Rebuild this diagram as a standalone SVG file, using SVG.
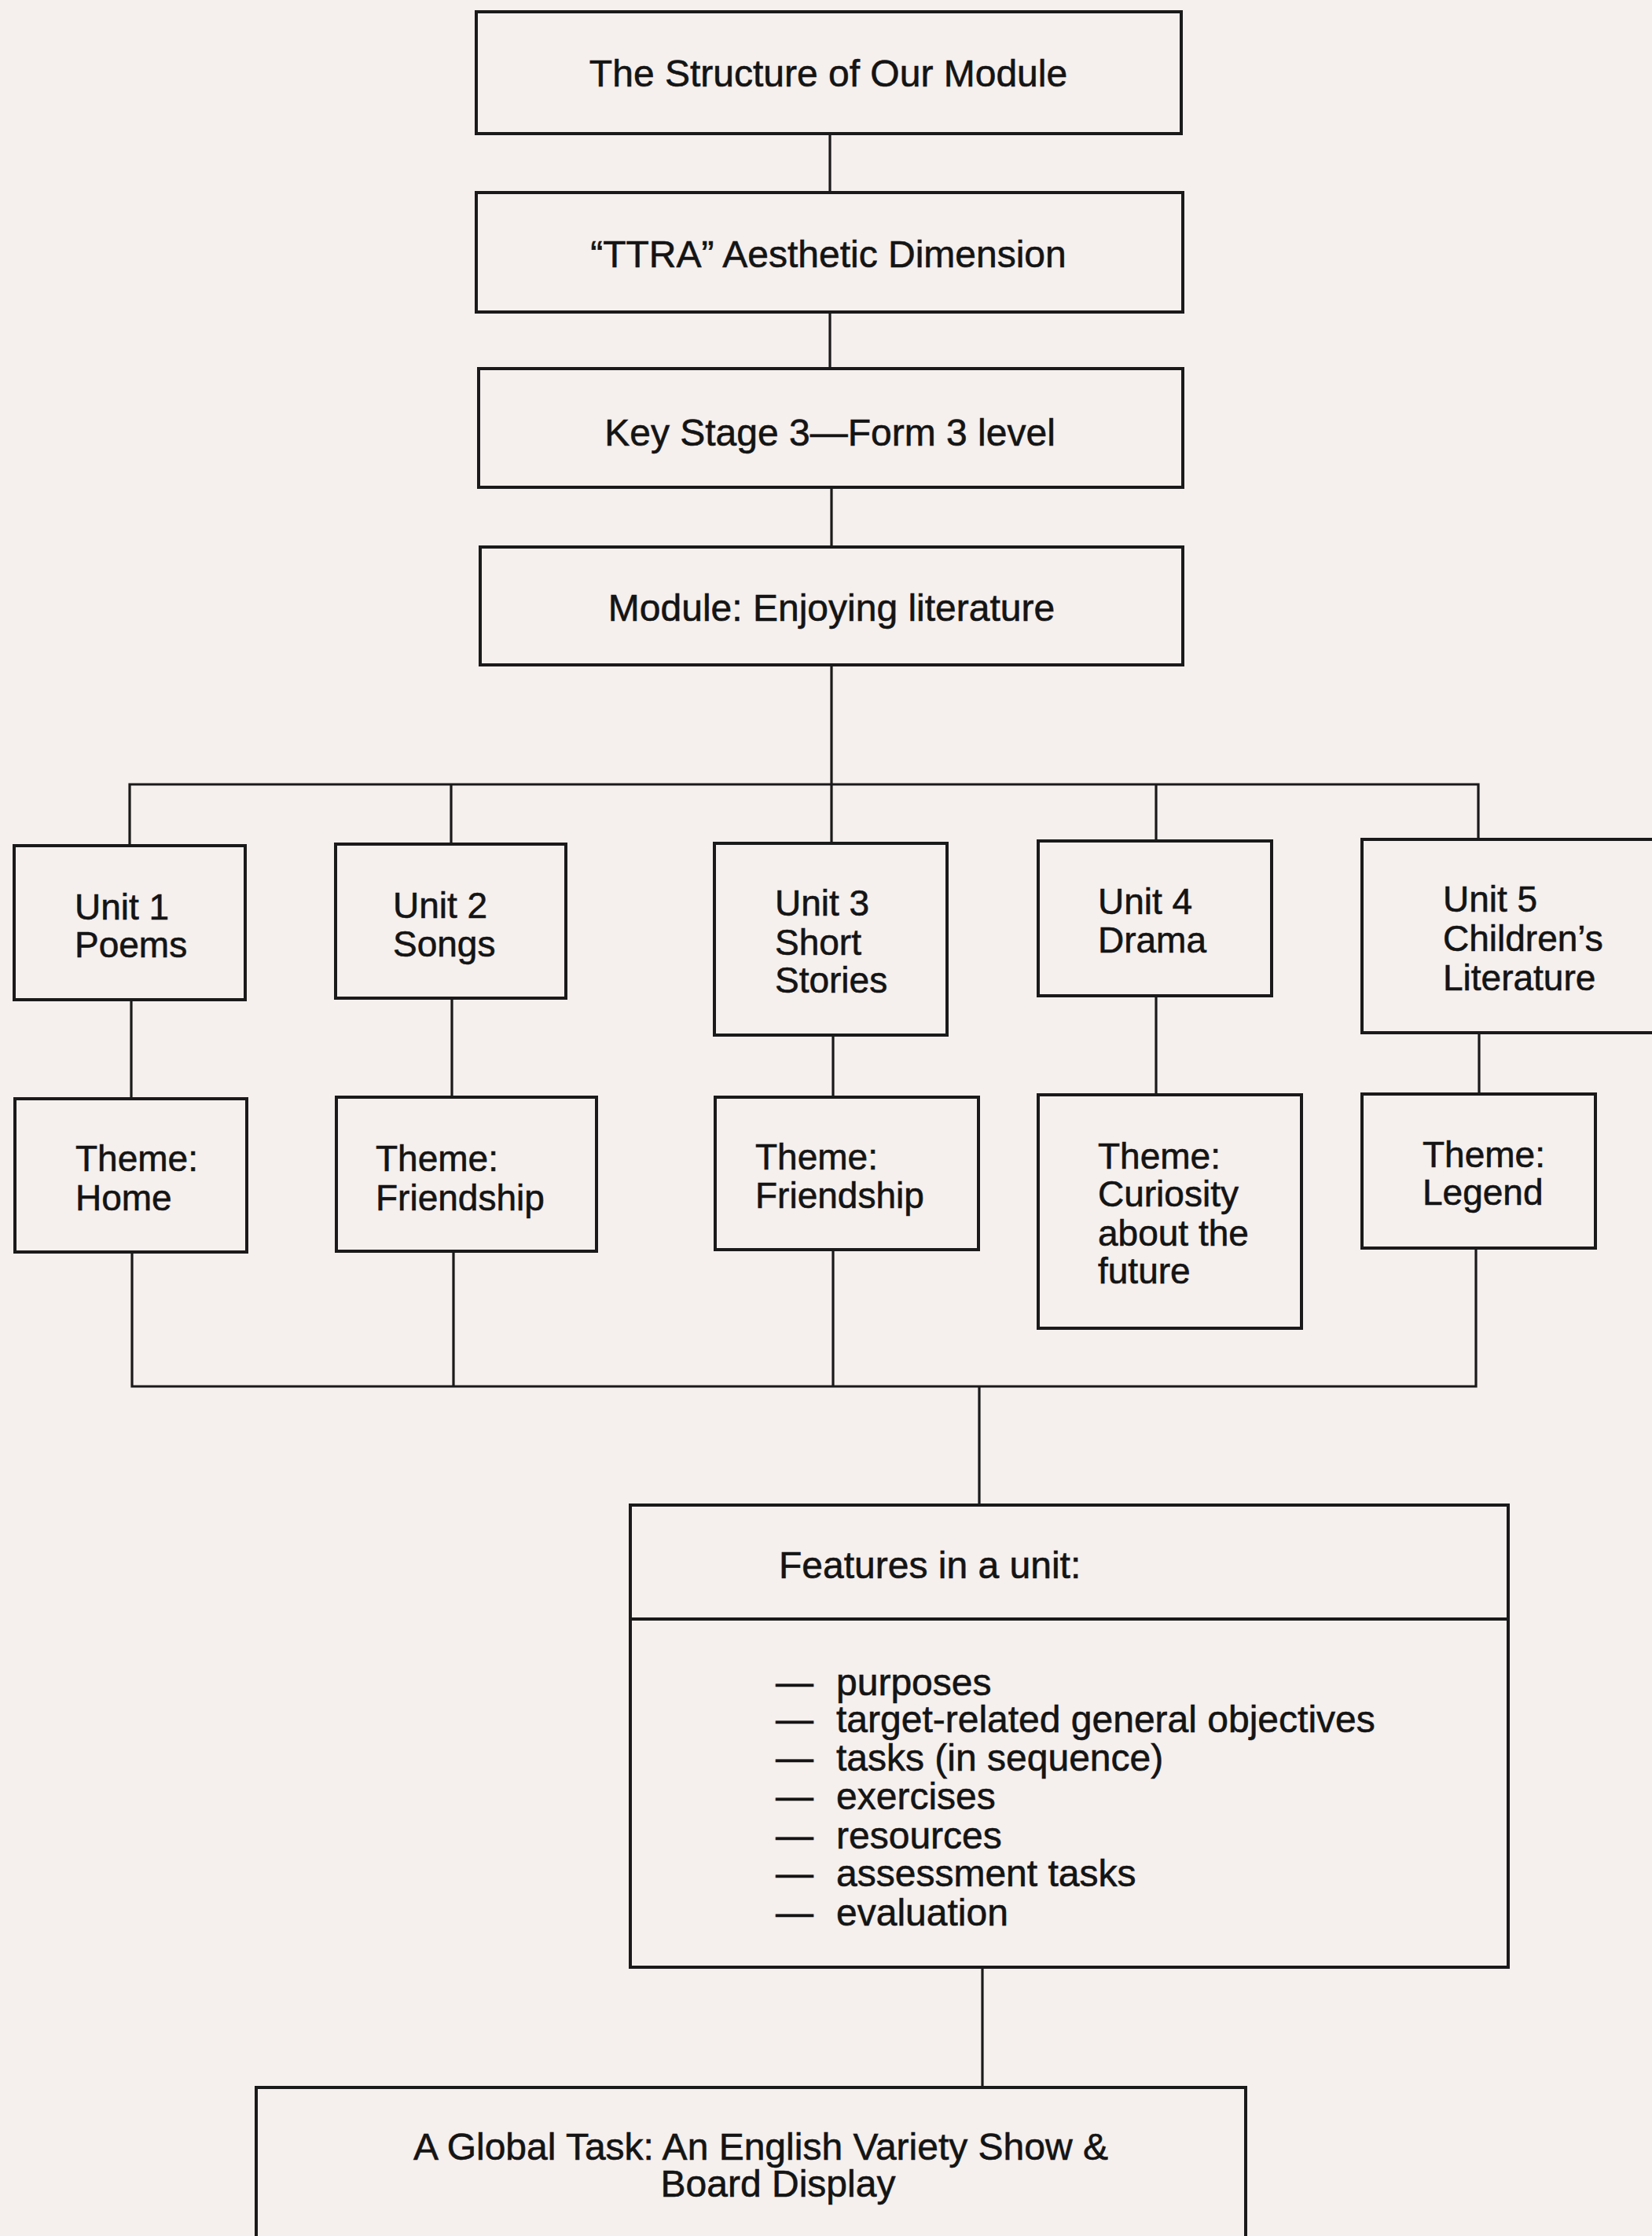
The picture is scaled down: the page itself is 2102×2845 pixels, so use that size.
<svg xmlns="http://www.w3.org/2000/svg" width="2102" height="2845" viewBox="0 0 2102 2845">
<style>
.bg{fill:#f5efed}
.box{fill:none;stroke:#1a1a1a;stroke-width:4}
.ln{fill:none;stroke:#1a1a1a;stroke-width:3.2;stroke-linecap:square}
text{font-family:"Liberation Sans",Arial,Helvetica,sans-serif;fill:#141414;stroke:#141414;stroke-width:0.6}
.t{font-size:48px;text-anchor:middle}
.u{font-size:46px}
.f{font-size:48px}
</style>
<rect class="bg" x="0" y="0" width="2102" height="2845"/>
<g id="connectors">
<path class="ln" d="M1056 170V245M1056 397V469M1058 620V696M1058 846V1073"/>
<path class="ln" d="M165 998H1881M165 998V1076M574 998V1074M1471 998V1070M1881 998V1068"/>
<path class="ln" d="M167 1272V1398M575 1270V1396M1060 1317V1396M1471 1267V1393M1882 1314V1392"/>
<path class="ln" d="M168 1593V1764M577 1592V1764M1060 1590V1764M1878 1588V1764M168 1764H1878M1246 1764V1915"/>
<path class="ln" d="M1250 2503V2656"/>
</g>
<g id="n-structure"><rect class="box" x="606" y="15" width="897" height="155"/><text class="t" x="1054" y="110">The Structure of Our Module</text></g>
<g id="n-ttra"><rect class="box" x="606" y="245" width="899" height="152"/><text class="t" x="1054" y="340">“TTRA” Aesthetic Dimension</text></g>
<g id="n-keystage"><rect class="box" x="609" y="469" width="896" height="151"/><text class="t" x="1056" y="567">Key Stage 3—Form 3 level</text></g>
<g id="n-module"><rect class="box" x="611" y="696" width="894" height="150"/><text class="t" x="1058" y="790">Module: Enjoying literature</text></g>
<g id="n-unit1"><rect class="box" x="18" y="1076" width="294" height="196"/><text class="u" x="95" y="1170">Unit 1</text><text class="u" x="95" y="1218">Poems</text></g>
<g id="n-unit2"><rect class="box" x="427" y="1074" width="293" height="196"/><text class="u" x="500" y="1168">Unit 2</text><text class="u" x="500" y="1217">Songs</text></g>
<g id="n-unit3"><rect class="box" x="909" y="1073" width="296" height="244"/><text class="u" x="986" y="1165">Unit 3</text><text class="u" x="986" y="1215">Short</text><text class="u" x="986" y="1263">Stories</text></g>
<g id="n-unit4"><rect class="box" x="1321" y="1070" width="297" height="197"/><text class="u" x="1397" y="1163">Unit 4</text><text class="u" x="1397" y="1212">Drama</text></g>
<g id="n-unit5"><rect class="box" x="1733" y="1068" width="380" height="246"/><text class="u" x="1836" y="1160">Unit 5</text><text class="u" x="1836" y="1210">Children’s</text><text class="u" x="1836" y="1260">Literature</text></g>
<g id="n-theme1"><rect class="box" x="19" y="1398" width="295" height="195"/><text class="u" x="96" y="1490">Theme:</text><text class="u" x="96" y="1540">Home</text></g>
<g id="n-theme2"><rect class="box" x="428" y="1396" width="331" height="196"/><text class="u" x="478" y="1490">Theme:</text><text class="u" x="478" y="1540">Friendship</text></g>
<g id="n-theme3"><rect class="box" x="910" y="1396" width="335" height="194"/><text class="u" x="961" y="1488">Theme:</text><text class="u" x="961" y="1537">Friendship</text></g>
<g id="n-theme4"><rect class="box" x="1321" y="1393" width="335" height="297"/><text class="u" x="1397" y="1487">Theme:</text><text class="u" x="1397" y="1535">Curiosity</text><text class="u" x="1397" y="1585">about the</text><text class="u" x="1397" y="1633">future</text></g>
<g id="n-theme5"><rect class="box" x="1733" y="1392" width="297" height="196"/><text class="u" x="1810" y="1485">Theme:</text><text class="u" x="1810" y="1533">Legend</text></g>
<g id="n-features"><rect class="box" x="802" y="1915" width="1117" height="588"/><line class="box" x1="802" y1="2060" x2="1919" y2="2060"/>
<text class="f" x="991" y="2008">Features in a unit:</text>
<text class="f" x="987" y="2157">—</text><text class="f" x="1064" y="2157">purposes</text>
<text class="f" x="987" y="2204">—</text><text class="f" x="1064" y="2204">target-related general objectives</text>
<text class="f" x="987" y="2253">—</text><text class="f" x="1064" y="2253">tasks (in sequence)</text>
<text class="f" x="987" y="2302">—</text><text class="f" x="1064" y="2302">exercises</text>
<text class="f" x="987" y="2352">—</text><text class="f" x="1064" y="2352">resources</text>
<text class="f" x="987" y="2400">—</text><text class="f" x="1064" y="2400">assessment tasks</text>
<text class="f" x="987" y="2450">—</text><text class="f" x="1064" y="2450">evaluation</text>
</g>
<g id="n-global"><rect class="box" x="326" y="2656" width="1259" height="260"/><text class="t" x="968" y="2748">A Global Task: An English Variety Show &amp;</text><text class="t" x="990" y="2795">Board Display</text></g>
</svg>
